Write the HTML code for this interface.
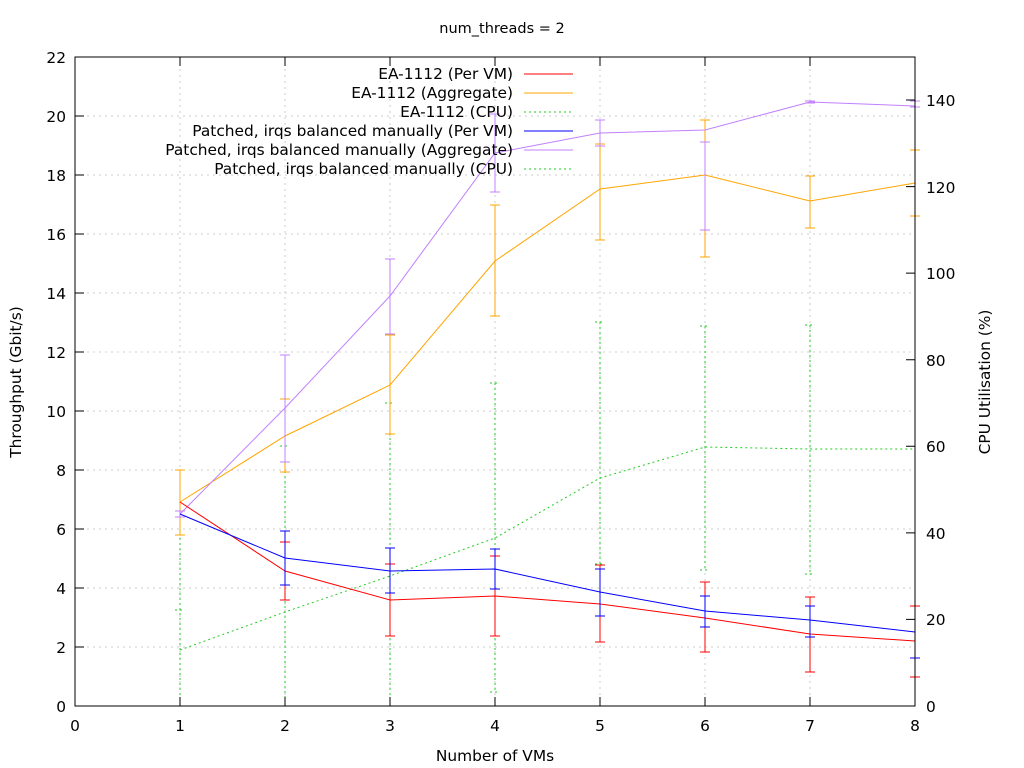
<!DOCTYPE html>
<html><head><meta charset="utf-8"><style>
body{margin:0;background:#fff}
svg{display:block}
text{font-family:"DejaVu Sans",sans-serif;font-size:15.4px;fill:#000}
</style></head><body>
<svg width="1024" height="768" viewBox="0 0 1024 768">
<g stroke="#cccccc" stroke-dasharray="2,4" stroke-width="1">
<line x1="75" y1="647" x2="915" y2="647"/><line x1="75" y1="588" x2="915" y2="588"/>
<line x1="75" y1="529" x2="915" y2="529"/><line x1="75" y1="470" x2="915" y2="470"/>
<line x1="75" y1="411" x2="915" y2="411"/><line x1="75" y1="352" x2="915" y2="352"/>
<line x1="75" y1="293" x2="915" y2="293"/><line x1="75" y1="234" x2="915" y2="234"/>
<line x1="75" y1="175" x2="915" y2="175"/><line x1="75" y1="116" x2="915" y2="116"/>
<line x1="180" y1="57" x2="180" y2="706"/><line x1="285" y1="57" x2="285" y2="706"/>
<line x1="390" y1="57" x2="390" y2="706"/><line x1="495" y1="57" x2="495" y2="706"/>
<line x1="600" y1="57" x2="600" y2="706"/><line x1="705" y1="57" x2="705" y2="706"/>
<line x1="810" y1="57" x2="810" y2="706"/>
</g>
<g stroke="#22cc22" stroke-dasharray="2,3" fill="none" stroke-width="1">
<polyline points="180,650 285,612 390,576 495,538 600,478 705,447 810,449 915,449"/>
<path d="M180,503V706M285,446V706M390,403V706M495,383V692M600,322V564M705,326V570M810,325V574M915,325V580M175,610h10M280,446h10M385,403h10M490,383h10M490,692h10M595,322h10M595,564h10M700,326h10M700,570h10M805,325h10M805,574h10"/>
</g>
<g stroke="#ffa500" fill="none" stroke-width="1">
<polyline points="180,502 285,436 390,385 495,261 600,189 705,175 810,201 915,183"/>
<path d="M180,470V535M285,399V472M390,335V434M495,205V316M600,144V240M705,120V257M810,176V228M915,150V216M175,470h10M175,535h10M280,399h10M280,472h10M385,335h10M385,434h10M490,205h10M490,316h10M595,144h10M595,240h10M700,120h10M700,257h10M805,176h10M805,228h10M910,150h10M910,216h10"/>
</g>
<g stroke="#c080ff" fill="none" stroke-width="1">
<polyline points="180,514 285,408 390,296 495,153 600,133 705,130 810,102 915,106"/>
<path d="M180,511V517M285,355V462M390,259V334M495,114V192M600,120V146M705,142V230M810,101V103M915,101V107M175,511h10M175,517h10M280,355h10M280,462h10M385,259h10M385,334h10M490,114h10M490,192h10M595,120h10M595,146h10M700,142h10M700,230h10M805,101h10M805,103h10M910,101h10M910,107h10"/>
</g>
<g stroke="#ff0000" fill="none" stroke-width="1">
<polyline points="180,502 285,571 390,600 495,596 600,604 705,618 810,634 915,641"/>
<path d="M285,542V600M390,564V636M495,556V636M600,565V642M705,582V652M810,597V672M915,606V677M280,542h10M280,600h10M385,564h10M385,636h10M490,556h10M490,636h10M595,565h10M595,642h10M700,582h10M700,652h10M805,597h10M805,672h10M910,606h10M910,677h10"/>
</g>
<g stroke="#0000ff" fill="none" stroke-width="1">
<polyline points="180,514 285,558 390,571 495,569 600,592 705,611 810,620 915,632"/>
<path d="M285,531V585M390,548V593M495,549V589M600,569V616M705,596V627M810,606V637M915,606V658M280,531h10M280,585h10M385,548h10M385,593h10M490,549h10M490,589h10M595,569h10M595,616h10M700,596h10M700,627h10M805,606h10M805,637h10M910,658h10"/>
</g>
<rect x="75" y="57" width="840" height="649" fill="none" stroke="#000" stroke-width="1"/>
<g stroke="#000" stroke-width="1">
<path d="M75,647h9M75,588h9M75,529h9M75,470h9M75,411h9M75,352h9M75,293h9M75,234h9M75,175h9M75,116h9"/>
<path d="M180,706v-9M285,706v-9M390,706v-9M495,706v-9M600,706v-9M705,706v-9M810,706v-9M180,57v9M285,57v9M390,57v9M495,57v9M600,57v9M705,57v9M810,57v9"/>
<path d="M915,619.4h-9M915,532.9h-9M915,446.3h-9M915,359.7h-9M915,273.1h-9M915,186.6h-9M915,100h-9"/>
</g>
<g text-anchor="end">
<text x="66" y="712">0</text><text x="66" y="653">2</text><text x="66" y="594">4</text><text x="66" y="535">6</text>
<text x="66" y="476">8</text><text x="66" y="417">10</text><text x="66" y="358">12</text><text x="66" y="299">14</text>
<text x="66" y="240">16</text><text x="66" y="181">18</text><text x="66" y="122">20</text><text x="66" y="63">22</text>
</g>
<g text-anchor="start">
<text x="926" y="712">0</text><text x="926" y="625">20</text><text x="926" y="539">40</text><text x="926" y="452">60</text>
<text x="926" y="366">80</text><text x="926" y="279">100</text><text x="926" y="193">120</text><text x="926" y="106">140</text>
</g>
<g text-anchor="middle">
<text x="75" y="731">0</text><text x="180" y="731">1</text><text x="285" y="731">2</text><text x="390" y="731">3</text>
<text x="495" y="731">4</text><text x="600" y="731">5</text><text x="705" y="731">6</text><text x="810" y="731">7</text><text x="915" y="731">8</text>
<text x="495" y="761">Number of VMs</text>
<text x="502" y="33" style="font-size:14.5px">num_threads = 2</text>
<text transform="translate(21,382) rotate(-90)">Throughput (Gbit/s)</text>
<text transform="translate(990,382) rotate(-90)">CPU Utilisation (%)</text>
</g>
<g text-anchor="end">
<text x="513" y="79">EA-1112 (Per VM)</text>
<text x="513" y="98">EA-1112 (Aggregate)</text>
<text x="513" y="117">EA-1112 (CPU)</text>
<text x="513" y="136">Patched, irqs balanced manually (Per VM)</text>
<text x="513" y="155">Patched, irqs balanced manually (Aggregate)</text>
<text x="513" y="174">Patched, irqs balanced manually (CPU)</text>
</g>
<g stroke-width="1">
<line x1="524" y1="74" x2="573" y2="74" stroke="#ff0000"/>
<line x1="524" y1="93" x2="573" y2="93" stroke="#ffa500"/>
<line x1="524" y1="112" x2="573" y2="112" stroke="#22cc22" stroke-dasharray="2,3"/>
<line x1="524" y1="131" x2="573" y2="131" stroke="#0000ff"/>
<line x1="524" y1="150" x2="573" y2="150" stroke="#c080ff"/>
<line x1="524" y1="169" x2="573" y2="169" stroke="#22cc22" stroke-dasharray="2,3"/>
</g>
</svg>
</body></html>
